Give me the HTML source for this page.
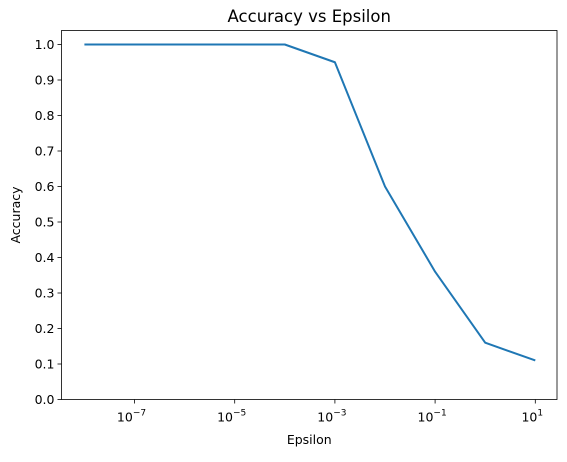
<!DOCTYPE html>
<html><head><meta charset="utf-8"><style>
body{margin:0;background:#fff;width:567px;height:457px;overflow:hidden}
text{font-family:"DejaVu Sans","Liberation Sans",sans-serif;fill:#000}
</style></head><body>
<svg id="chart" width="567" height="457"></svg>
<script>
const epsilons=[1e-8,1e-7,1e-6,1e-5,1e-4,1e-3,1e-2,1e-1,1,10];
const accuracy=[1.0,1.0,1.0,1.0,1.0,0.95,0.60,0.36,0.16,0.11];
const yTicks=[0,0.1,0.2,0.3,0.4,0.5,0.6,0.7,0.8,0.9,1.0];
const xTickExps=[-7,-5,-3,-1,1];
const L=61.5,R=557,T=30.5,B=399.5;
const px=e=>535.3+(Math.log10(e)-1)*50.1;
const py=v=>B-v*355;
const NS="http://www.w3.org/2000/svg";
const svg=document.getElementById('chart');
function mk(tag,attrs,parent){const el=document.createElementNS(NS,tag);for(const k in attrs)el.setAttribute(k,attrs[k]);(parent||svg).appendChild(el);return el;}
const title=mk('text',{x:(L+R)/2,y:22,'text-anchor':'middle','font-size':16.5});title.textContent='Accuracy vs Epsilon';


yTicks.forEach(v=>{
 const t=mk('line',{x1:L-4,x2:L,y1:py(v),y2:py(v),stroke:'#000','stroke-width':0.8});
 
 
 const l=mk('text',{x:L-7,y:py(v)+4.5,'text-anchor':'end','font-size':12.5});l.textContent=v.toFixed(1);
 
 
});
xTickExps.forEach(e=>{
 const x=px(Math.pow(10,e));
 const t=mk('line',{x1:x,x2:x,y1:B,y2:B+4,stroke:'#000','stroke-width':0.8});
 
 
 const l=mk('text',{x:x-3,y:B+22,'text-anchor':'middle','font-size':12.5});
 
 
 l.textContent='10';
 const s=mk('tspan',{dy:-6,'font-size':9},l);s.textContent=e<0?'\u2212'+(-e):String(e);
});
const pts=epsilons.map((e,i)=>px(e)+','+py(accuracy[i])).join(' ');
const line=mk('polyline',{points:pts,fill:'none',stroke:'#1f77b4','stroke-width':2,'stroke-linejoin':'round'});


const frame=mk('rect',{x:L,y:T,width:R-L,height:B-T,fill:'none',stroke:'#000','stroke-width':0.8});


const xl=mk('text',{x:(L+R)/2,y:444,'text-anchor':'middle','font-size':12.5});xl.textContent='Epsilon';


const yl=mk('text',{x:0,y:0,'text-anchor':'middle','font-size':12.5,transform:'translate(20,'+((T+B)/2)+') rotate(-90)'});yl.textContent='Accuracy';


</script>
</body></html>
